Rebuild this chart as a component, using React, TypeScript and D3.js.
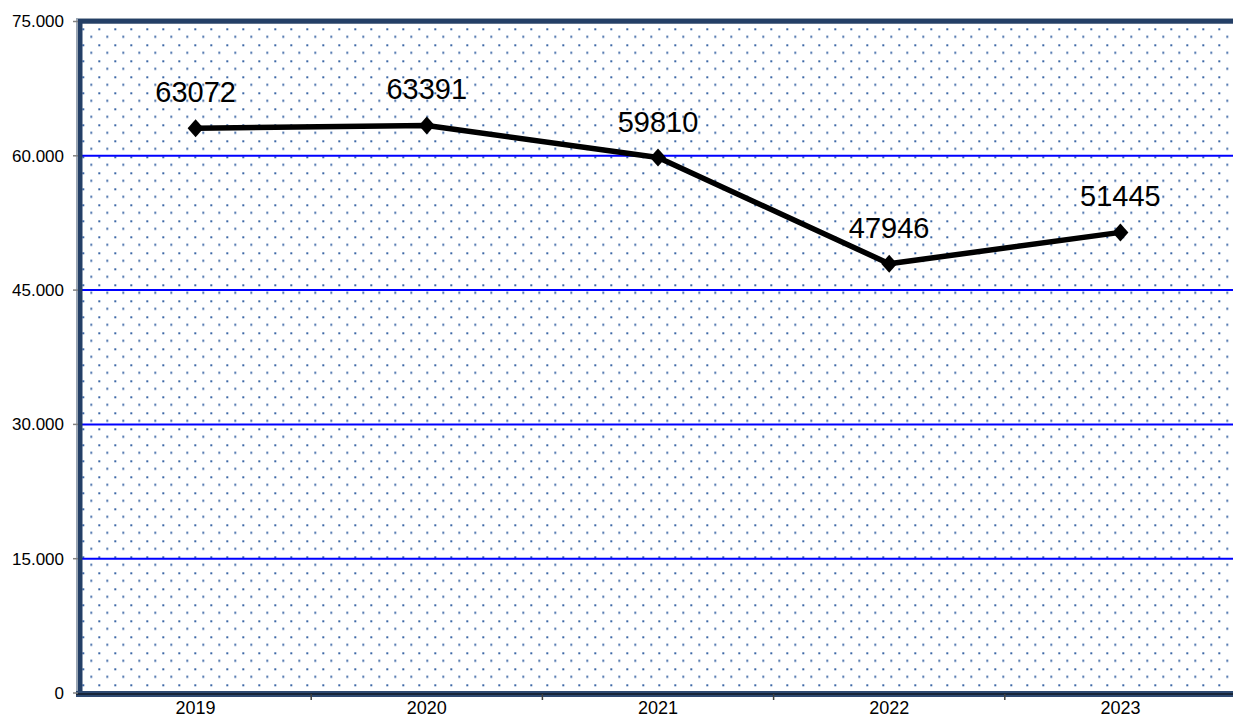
import React from "react";
import * as d3 from "d3";

const years = ["2019", "2020", "2021", "2022", "2023"];
const values = [63072, 63391, 59810, 47946, 51445];
const yTicks = [0, 15000, 30000, 45000, 60000, 75000];
const gridValues = [15000, 30000, 45000, 60000];

const W = 1233;
const H = 720;
const left = 80;
const right = 1236;
const top = 21.5;
const bottom = 693;

const fmt = (v: number) => (v === 0 ? "0" : d3.format(",")(v).replace(/,/g, "."));

export default function App() {
  const x = d3.scaleBand<string>().domain(years).range([left, right]).paddingInner(0).paddingOuter(0);
  const y = d3.scaleLinear().domain([0, 75000]).range([bottom, top]);
  const cx = (yr: string) => (x(yr) as number) + x.bandwidth() / 2;
  const line = d3
    .line<number>()
    .x((_, i) => cx(years[i]))
    .y((d) => y(d));
  const font = "'Liberation Sans', Arial, sans-serif";
  const boundaries = years.slice(1).map((yr) => x(yr) as number);

  return (
    <div style={{ position: "absolute", left: 0, top: 0, width: W, height: H }}>
      <svg width={W} height={H} style={{ display: "block" }}>
        <defs>
          <pattern id="dots" patternUnits="userSpaceOnUse" x={2.3} y={12.3} width={16} height={16}>
            <rect x={0} y={0} width={2} height={2} fill="#3d68a6" />
            <rect x={8} y={7.5} width={2} height={2} fill="#3d68a6" />
          </pattern>
          <clipPath id="plotclip">
            <rect x={left} y={top} width={right - left} height={bottom - top} />
          </clipPath>
        </defs>
        <rect x={0} y={0} width={W} height={H} fill="#ffffff" />
        <rect x={left} y={top} width={right - left} height={bottom - top} fill="url(#dots)" />
        {gridValues.map((v) => (
          <line key={v} x1={left} x2={right} y1={y(v)} y2={y(v)} stroke="#0000ff" strokeWidth={2} />
        ))}
        {/* frame */}
        <rect x={76} y={18} width={W - 76} height={6} fill="#9aa6b4" />
        <rect x={77} y={19} width={W - 77} height={4.5} fill="#243f66" />
        <rect x={76} y={18} width={6} height={bottom - 18 + 4} fill="#9aa6b4" />
        <rect x={78} y={19} width={4.5} height={bottom - 19 + 3} fill="#243f66" />
        <rect x={76} y={bottom - 2} width={W - 76} height={6} fill="#2e4a72" />
        <line x1={76} x2={W} y1={bottom + 1} y2={bottom + 1} stroke="#000000" strokeWidth={1.2} />
        {/* y ticks */}
        {yTicks.map((v) => (
          <g key={v}>
            <line x1={73} x2={78} y1={y(v)} y2={y(v)} stroke="#808080" strokeWidth={1.5} />
            <text
              x={64}
              y={y(v)}
              dy="0.35em"
              textAnchor="end"
              fontFamily={font}
              fontSize={17}
              fill="#000"
            >
              {fmt(v)}
            </text>
          </g>
        ))}
        {/* x ticks */}
        {boundaries.map((bx, i) => (
          <line key={i} x1={bx} x2={bx} y1={bottom + 1} y2={bottom + 7} stroke="#404040" strokeWidth={1.5} />
        ))}
        {years.map((yr) => (
          <text
            key={yr}
            x={cx(yr)}
            y={714}
            textAnchor="middle"
            fontFamily={font}
            fontSize={18}
            fill="#000"
          >
            {yr}
          </text>
        ))}
        {/* line */}
        <path d={line(values) || ""} fill="none" stroke="#000" strokeWidth={5.5} strokeLinejoin="round" />
        {values.map((v, i) => {
          const px = cx(years[i]);
          const py = y(v);
          return (
            <g key={i}>
              <path
                d={`M${px},${py - 9}L${px + 8},${py}L${px},${py + 9}L${px - 8},${py}Z`}
                fill="#000"
              />
              <text
                x={px}
                y={py - 26}
                textAnchor="middle"
                fontFamily={font}
                fontSize={29}
                fill="#000"
              >
                {v}
              </text>
            </g>
          );
        })}
      </svg>
    </div>
  );
}
